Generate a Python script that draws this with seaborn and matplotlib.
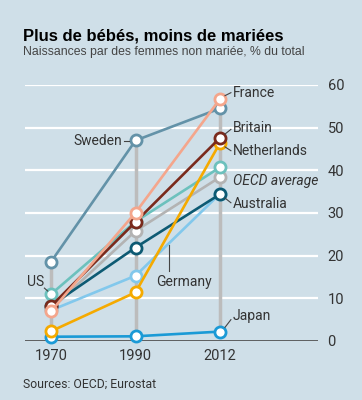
import matplotlib
matplotlib.use("Agg")
import matplotlib.pyplot as plt
import seaborn as sns
import pandas as pd

# Données
annees = ["1970", "1990", "2012"]
japan = [1.0, 1.1, 2.2]
germany = [7.2, 15.3, 34.5]
oecd = [7.5, 25.8, 38.4]
australia = [8.3, 21.9, 34.4]
us = [11.0, 28.0, 40.7]
sweden = [18.6, 47.0, 54.5]
netherlands = [2.3, 11.4, 46.4]
britain = [8.2, 27.9, 47.6]
france = [7.0, 30.1, 56.7]

pays = ["Japan", "Germany", "OECD average", "Australia", "US", "Sweden",
        "Netherlands", "Britain", "France"]
valeurs = [japan, germany, oecd, australia, us, sweden, netherlands, britain, france]
couleurs = ["#1b9ad6", "#82c8ec", "#b3b3b3", "#0d5a73", "#6cc1bd", "#6392a8",
            "#f5aa00", "#7a2a1c", "#f4a68c"]

fond = "#cfdfe8"
texte = "#333333"

df = pd.DataFrame({
    "pays": [p for p in pays for _ in annees],
    "annee": annees * len(pays),
    "valeur": [v for serie in valeurs for v in serie],
})
df["x"] = df["annee"].map({a: i for i, a in enumerate(annees)})

fig = plt.figure(figsize=(3.62, 4.0), dpi=100, facecolor=fond)
ax = fig.add_axes([0.069, 0.1475, 0.809, 0.64])
ax.set_facecolor(fond)

# Lignes verticales (min-max par année)
rng = df.groupby("x")["valeur"].agg(["min", "max"])
ax.vlines(rng.index, rng["min"], rng["max"], color="#bcbcbc", lw=2.5, zorder=1)

for i, (p, c) in enumerate(zip(pays, couleurs)):
    sub = df[df["pays"] == p]
    sns.lineplot(data=sub, x="x", y="valeur", ax=ax, color=c, lw=1.9,
                 marker="o", markersize=8, markerfacecolor="white",
                 markeredgecolor=c, markeredgewidth=2, zorder=3 + i,
                 clip_on=False, legend=False)

ax.set_xlim(-0.31, 3.16)
ax.set_ylim(0, 60)
ax.set_xticks(range(len(annees)))
ax.set_xticklabels(annees)
ax.set_yticks(range(0, 61, 10))
ax.yaxis.tick_right()
ax.grid(False)
for yv in range(10, 61, 10):
    ax.axhline(yv, color="white", lw=1.6, zorder=0)
ax.axhline(0, color="#555555", lw=1.3, zorder=2)
for s in ax.spines.values():
    s.set_visible(False)
ax.tick_params(length=0, labelsize=10.5, colors=texte, labelfontfamily="Roboto")
ax.tick_params(axis="y", pad=7)
ax.tick_params(axis="x", pad=6)
ax.set_xlabel("")
ax.set_ylabel("")

lab = dict(fontsize=10, color=texte, family="Roboto", va="center")
lead = dict(color="#444444", lw=0.8, clip_on=False, zorder=20)

# Étiquettes à droite
ax.text(2.15, 58.2, "France", **lab)
ax.plot([2.06, 2.13], [57.5, 58.2], **lead)
ax.text(2.15, 49.9, "Britain", **lab)
ax.plot([2.06, 2.13], [48.5, 49.6], **lead)
ax.text(2.15, 44.6, "Netherlands", **lab)
ax.plot([2.06, 2.13], [45.5, 44.6], **lead)
ax.text(2.15, 37.6, "OECD average", style="italic", **lab)
ax.text(2.15, 32.2, "Australia", **lab)
ax.plot([2.06, 2.13], [33.5, 32.4], **lead)
ax.text(2.15, 5.9, "Japan", **lab)
ax.plot([2.06, 2.13], [3.2, 5.0], **lead)

# Étiquettes à gauche / milieu
ax.text(0.84, 46.8, "Sweden", ha="right", **lab)
ax.plot([0.86, 0.92], [46.8, 46.8], **lead)
ax.text(-0.08, 13.9, "US", ha="right", **lab)
ax.plot([-0.08, -0.04], [12.4, 11.7], **lead)
ax.text(1.57, 13.9, "Germany", ha="center", **lab)
ax.plot([1.40, 1.40], [22.4, 16.4], **lead)

fig.text(0.064, 0.898, "Plus de bébés, moins de mariées", fontsize=12,
         fontweight="bold", family="Liberation Sans", color="black", va="baseline")
fig.text(0.064, 0.862, "Naissances par des femmes non mariée, % du total",
         fontsize=8.8, family="Liberation Sans", color="#444444", va="baseline")
fig.text(0.064, 0.04, "Sources: OECD; Eurostat", fontsize=8.8,
         family="Roboto", color=texte, va="center")

fig.savefig("out.png", dpi=100, facecolor=fond)
